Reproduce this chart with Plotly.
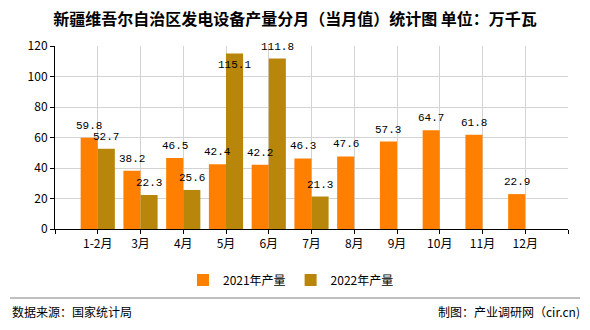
import plotly.graph_objects as go

categories = ["1-2月", "3月", "4月", "5月", "6月", "7月", "8月", "9月", "10月", "11月", "12月"]
values_2021 = [59.8, 38.2, 46.5, 42.4, 42.2, 46.3, 47.6, 57.3, 64.7, 61.8, 22.9]
values_2022 = [52.7, 22.3, 25.6, 115.1, 111.8, 21.3, None, None, None, None, None]
series_names = ["2021年产量", "2022年产量"]
colors = ["#FF8000", "#B8860B"]

title_text = "新疆维吾尔自治区发电设备产量分月（当月值）统计图 单位：万千瓦"
source_text = "数据来源：国家统计局"
maker_text = "制图：产业调研网（cir.cn)"

CJK = "Noto Sans CJK SC"
MONO = "Liberation Mono"

xpos = list(range(len(categories)))

fig = go.Figure()
for name, vals, col in zip(series_names, [values_2021, values_2022], colors):
    fig.add_trace(go.Bar(x=xpos, y=vals, name=name, marker=dict(color=col, line=dict(width=0))))

annotations = []
offsets = [-0.2, 0.2]
for k, vals in enumerate([values_2021, values_2022]):
    for i, v in enumerate(vals):
        if v is None:
            continue
        shift = 4
        if v > 113:
            shift = -20
        annotations.append(dict(x=i + offsets[k], y=v, xref="x", yref="y", text=f"{v:.1f}",
                                showarrow=False, yanchor="bottom", yshift=shift,
                                font=dict(family=MONO, size=11, color="#000")))

annotations.append(dict(x=(10 - 55) / 513, y=(229 - 311) / 183, xref="paper", yref="paper",
                        text=source_text, showarrow=False, xanchor="left", yanchor="middle",
                        font=dict(family=CJK, size=12, color="#000")))
annotations.append(dict(x=(582 - 55) / 513, y=(229 - 311) / 183, xref="paper", yref="paper",
                        text=maker_text, showarrow=False, xanchor="right", yanchor="middle",
                        font=dict(family=CJK, size=12, color="#000")))

fig.update_layout(
    width=590, height=330,
    margin=dict(l=55, r=22, t=46, b=101),
    paper_bgcolor="white", plot_bgcolor="white",
    barmode="group", bargap=0.2, bargroupgap=0,
    title=dict(text=title_text, x=0.5, xanchor="center", y=1 - 19 / 330, yanchor="middle",
               font=dict(family=CJK, size=16, color="#000", weight="bold")),
    showlegend=True,
    legend=dict(orientation="h", x=0.46, xanchor="center", y=-0.2, yanchor="top",
                font=dict(family=CJK, size=12, color="#000"), itemwidth=30,
                traceorder="normal"),
    font=dict(family=CJK, size=12, color="#000"),
    annotations=annotations,
)

fig.add_shape(type="line", xref="paper", yref="paper",
              x0=(10 - 55) / 513, x1=(580 - 55) / 513,
              y0=(229 - 298) / 183, y1=(229 - 298) / 183,
              line=dict(color="#808080", width=1))

fig.update_xaxes(range=[-1, 11], tickmode="array",
                 tickvals=[-1] + xpos + [11], ticktext=[""] + categories + [""],
                 showgrid=True, gridcolor="#d3d3d3", gridwidth=1,
                 showline=True, linecolor="#000", linewidth=1,
                 ticks="outside", ticklen=4, tickcolor="#000",
                 tickfont=dict(family=CJK, size=12, color="#000"), zeroline=False)
fig.update_yaxes(range=[0, 120], dtick=20, showgrid=True, gridcolor="#d3d3d3", gridwidth=1,
                 showline=True, linecolor="#000", linewidth=1,
                 ticks="outside", ticklen=4, tickcolor="#000",
                 tickfont=dict(family=CJK, size=12, color="#000"), zeroline=False)

fig.write_html("out.html")
